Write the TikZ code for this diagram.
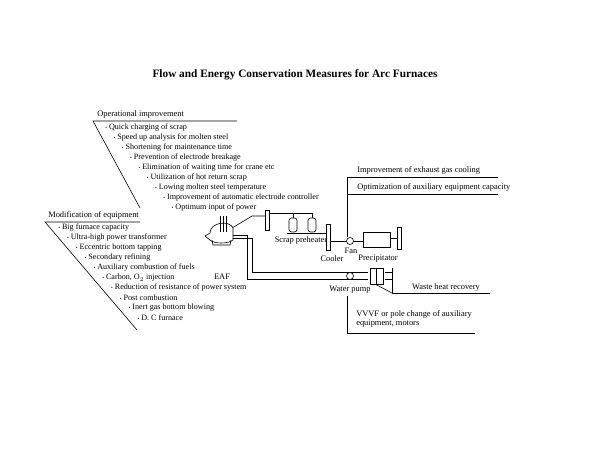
\documentclass[tikz,border=0pt]{standalone}
\usepackage{fontspec}
\setmainfont{Liberation Serif}
\begin{document}
\begin{tikzpicture}[x=1pt,y=-1pt,line width=0.6pt,
  lab/.style={font=\fontsize{8.4}{9.5}\selectfont,inner sep=0pt},
  itm/.style={font=\fontsize{8.1}{9}\selectfont,inner sep=0pt,anchor=west},
  eq/.style={draw,fill=white,line width=0.6pt}]
\useasboundingbox (0,0) rectangle (600,450);
\node[font=\fontsize{11.3}{13}\selectfont\bfseries] (title) at (295,75) {Flow and Energy Conservation Measures for Arc Furnaces};
% Operational improvement
\node[lab,anchor=west] (op) at (97,114) {Operational improvement};
\draw (237,121) -- (93,121) -- (140,208);
\foreach \t [count=\i from 0] in {Quick charging of scrap,Speed up analysis for molten steel,Shortening for maintenance time,Prevention of electrode breakage,Elimination of waiting time for crane etc,Utilization of hot return scrap,Lowing molten steel temperature,Improvement of automatic electrode controller,Optimum input of power}
  \node[itm] (o\i) at ({105+8.3*\i},{128+9.9*\i}) {{\tiny\textbullet} \t};
% Modification of equipment
\node[lab,anchor=west] (mod) at (48,215) {Modification of equipment};
\draw (140,222) -- (45,222) -- (137,330);
\foreach \t [count=\i from 0] in {Big furnace capacity,Ultra-high power transformer,Eccentric bottom tapping,Secondary refining,Auxiliary combustion of fuels,{Carbon, O$_2$ injection},Reduction of resistance of power system,Post combustion,Inert gas bottom blowing,D. C furnace}
  \node[itm] (m\i) at ({58+8.8*\i},{228+10*\i}) {{\tiny\textbullet} \t};
% pipes
\draw (232,228) -- (252,216) -- (267,216);
\draw (268,213) -- (312,213) -- (312,220);
\draw (293,213) -- (293,220);
\draw (287,233) -- (315,233);
\draw (315,233) -- (328,233);
\draw (328,241) -- (363,241);
\draw (390,238) -- (399,238);
\draw (233,235) -- (247,235) -- (247,279) -- (368,279);
\draw (233,238) -- (252,238) -- (252,272) -- (368,272);
\draw (385,272) -- (392,272);
\draw (385,279) -- (392,279);
\draw (392,268) -- (392,293) -- (490,293);
\draw (375,284) -- (392,293);
\draw (347,237) -- (347,177) -- (498,177);
\draw (347,194) -- (498,194);
\draw (347,296) -- (347,333) -- (475,333);
% equipment
\draw[eq] (265,210) rectangle (269,230);
\draw[eq,rounded corners=2.5pt] (289,218) rectangle (297,232);
\draw[eq,rounded corners=2.5pt] (308,218) rectangle (316,232);
\draw[eq] (326,224) rectangle (330,250);
\draw[eq] (350,241) circle (3.5);
\draw[eq] (363,232) rectangle (390,247);
\draw[eq] (397,227) rectangle (401,249);
\draw[eq] (350,276) circle (3.5);
\draw[eq] (370,268) rectangle (383,284);
\draw (376,268) -- (376,284);
% EAF
\draw[eq] (205,236) -- (210,233) .. controls (210,222) and (230,220) .. (233,228) -- (233,240) .. controls (228,244) and (214,244) .. (210,240) -- cycle;
\draw (212,240) -- (213,245) -- (230,245) -- (231,240);
\draw (220,216) -- (220,232) (223,216) -- (223,232) (226,216) -- (226,232);
% labels
\node[lab] (eaf) at (222,277) {EAF};
\node[lab] (sp) at (301,240) {Scrap preheater};
\node[lab] (cool) at (332,259) {Cooler};
\node[lab] (fan) at (351,251) {Fan};
\node[lab] (prec) at (378,259) {Precipitator};
\node[lab] (wp) at (350,290) {Water pump};
\node[lab,anchor=west] (imp) at (357,170) {Improvement of exhaust gas cooling};
\node[lab,anchor=west] (opt) at (357,187) {Optimization of auxiliary equipment capacity};
\node[lab] (whr) at (446,287) {Waste heat recovery};
\node[lab,anchor=west,align=left] (vv) at (356,319) {VVVF or pole change of auxiliary\\equipment, motors};
\end{tikzpicture}
\end{document}
